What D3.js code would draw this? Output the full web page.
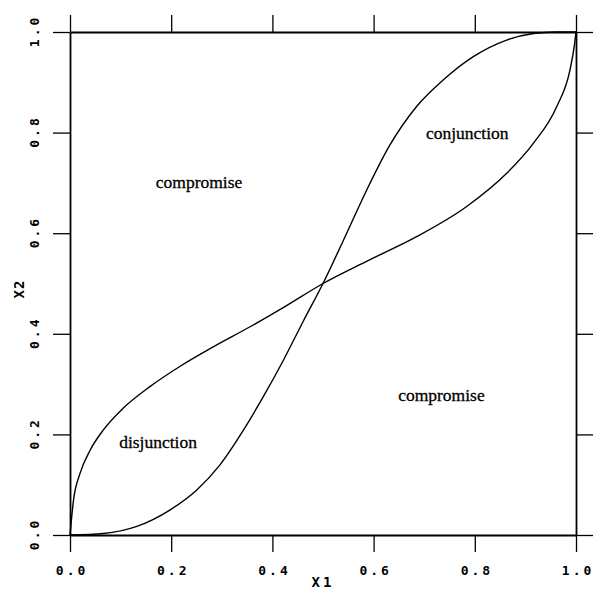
<!DOCTYPE html>
<html>
<head>
<meta charset="utf-8">
<script src="https://cdn.jsdelivr.net/npm/d3@7"></script>
<style>
  body { margin: 0; background: #fff; }
  svg { display: block; }
</style>
</head>
<body>
<svg id="chart" width="593" height="590"></svg>
<script>
// S-shaped boundary (flat at the ends, steep through the middle)
var curveA_x1 = [0, 0.066, 0.132, 0.198, 0.250, 0.296, 0.343, 0.382, 0.422, 0.461, 0.5,
                 0.540, 0.586, 0.632, 0.685, 0.738, 0.797, 0.863, 0.916, 0.96, 1];
var curveA_x2 = [0, 0.003, 0.017, 0.050, 0.089, 0.139, 0.209, 0.275, 0.348, 0.425, 0.5,
                 0.585, 0.685, 0.775, 0.852, 0.905, 0.951, 0.984, 0.997, 1.0, 1];

// the other boundary (vertical at the ends, flat through the middle)
var curveB_x1 = [0, 0.007, 0.020, 0.040, 0.066, 0.105, 0.158, 0.217, 0.283, 0.356, 0.428, 0.5,
                 0.586, 0.685, 0.784, 0.863, 0.916, 0.962, 0.988, 0.997, 1];
var curveB_x2 = [0, 0.070, 0.123, 0.169, 0.209, 0.252, 0.295, 0.335, 0.374, 0.414, 0.456, 0.5,
                 0.544, 0.593, 0.653, 0.719, 0.779, 0.852, 0.924, 0.975, 1];

var ticks = [0, 0.2, 0.4, 0.6, 0.8, 1.0];

var regionNames = ["compromise", "compromise", "conjunction", "disjunction"];
var regionAt = [[0.255, 0.690], [0.734, 0.266], [0.785, 0.787], [0.174, 0.173]];

var svg = d3.select("#chart");

var x = d3.scaleLinear().domain([0, 1]).range([70, 576]);
var y = d3.scaleLinear().domain([0, 1]).range([535, 32]);

var tickFont = "bold 13px 'DejaVu Sans Mono', monospace";

function styleAxis(g) {
    g.select(".domain").attr("stroke", "#000").attr("stroke-width", 1.8);
    g.selectAll(".tick line").attr("stroke", "#000").attr("stroke-width", 1.3);
}

// bottom
svg.append("g")
    .attr("transform", "translate(0," + y(0) + ")")
    .call(d3.axisBottom(x).tickValues(ticks).tickSize(17).tickSizeOuter(0).tickPadding(14)
        .tickFormat(d3.format(".1f")))
    .call(styleAxis)
    .call(function(g) {
        g.selectAll(".tick text")
            .style("font", tickFont)
            .attr("letter-spacing", 3)
            .attr("dx", "0.12em")
            .attr("fill", "#000");
    });

// top
svg.append("g")
    .attr("transform", "translate(0," + y(1) + ")")
    .call(d3.axisTop(x).tickValues(ticks).tickSize(17).tickSizeOuter(0).tickFormat(""))
    .call(styleAxis);

// left
svg.append("g")
    .attr("transform", "translate(" + x(0) + ",0)")
    .call(d3.axisLeft(y).tickValues(ticks).tickSize(17).tickSizeOuter(0)
        .tickFormat(d3.format(".1f")))
    .call(styleAxis)
    .call(function(g) {
        g.selectAll(".tick text")
            .attr("x", null).attr("dy", null)
            .attr("transform", "translate(-36,0) rotate(-90)")
            .attr("text-anchor", "middle")
            .attr("dy", "0.36em")
            .attr("dx", "0.12em")
            .style("font", tickFont)
            .attr("letter-spacing", 3)
            .attr("fill", "#000");
    });

// right
svg.append("g")
    .attr("transform", "translate(" + x(1) + ",0)")
    .call(d3.axisRight(y).tickValues(ticks).tickSize(17).tickSizeOuter(0).tickFormat(""))
    .call(styleAxis);

// axis titles
svg.append("text")
    .attr("x", 323).attr("y", 587)
    .attr("text-anchor", "middle")
    .style("font", "bold 14px 'DejaVu Sans Mono', monospace")
    .attr("letter-spacing", 3)
    .text("X1");

svg.append("text")
    .attr("transform", "translate(24,289) rotate(-90)")
    .attr("text-anchor", "middle")
    .style("font", "bold 14px 'DejaVu Sans Mono', monospace")
    .attr("letter-spacing", 1)
    .text("X2");

// boundaries
var line = d3.line()
    .x(function(d) { return x(d[0]); })
    .y(function(d) { return y(d[1]); })
    .curve(d3.curveMonotoneX);

var curves = [d3.zip(curveA_x1, curveA_x2), d3.zip(curveB_x1, curveB_x2)];

svg.append("g").selectAll("path")
    .data(curves)
    .enter().append("path")
    .attr("d", line)
    .attr("fill", "none")
    .attr("stroke", "#000")
    .attr("stroke-width", 1.4);

// region labels
svg.append("g").selectAll("text")
    .data(regionNames)
    .enter().append("text")
    .attr("x", function(d, i) { return x(regionAt[i][0]); })
    .attr("y", function(d, i) { return y(regionAt[i][1]); })
    .attr("text-anchor", "middle")
    .style("font", "17.5px 'Liberation Serif', serif")
    .attr("fill", "#000")
    .attr("stroke", "#000")
    .attr("stroke-width", 0.3)
    .text(function(d) { return d; });
</script>
</body>
</html>
